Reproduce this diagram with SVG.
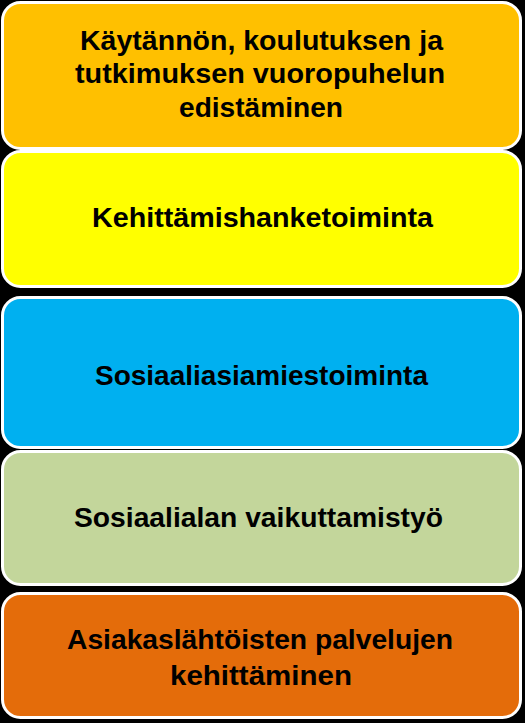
<svg xmlns="http://www.w3.org/2000/svg" width="525" height="723" viewBox="0 0 525 723">
<style>
.box{stroke:#ffffff;stroke-width:3}
.t{font-family:"Liberation Sans",Arial,sans-serif;font-weight:bold;font-size:28px;fill:#000000;text-anchor:middle}
</style>
<rect x="0" y="0" width="525" height="723" fill="#000000"/>
<g id="node1">
<rect class="box" x="2.5" y="2.5" width="518" height="146" rx="18" fill="#FFC000"/>
<text class="t" x="261.5" y="50" textLength="363" lengthAdjust="spacingAndGlyphs">Käytännön, koulutuksen ja</text>
<text class="t" x="260" y="83" textLength="370" lengthAdjust="spacingAndGlyphs">tutkimuksen vuoropuhelun</text>
<text class="t" x="261" y="117" textLength="164" lengthAdjust="spacingAndGlyphs">edistäminen</text>
</g>
<g id="node2">
<rect class="box" x="2.5" y="151.5" width="518" height="135" rx="18" fill="#FFFF00"/>
<text class="t" x="262.5" y="227" textLength="341" lengthAdjust="spacingAndGlyphs">Kehittämishanketoiminta</text>
</g>
<g id="node3">
<rect class="box" x="2.5" y="297.5" width="518" height="150" rx="18" fill="#00B0F0"/>
<text class="t" x="261.5" y="385" textLength="333" lengthAdjust="spacingAndGlyphs">Sosiaaliasiamiestoiminta</text>
</g>
<g id="node4">
<rect class="box" x="2.5" y="451.5" width="518" height="133" rx="18" fill="#C3D69B"/>
<text class="t" x="258.5" y="527" textLength="369" lengthAdjust="spacingAndGlyphs">Sosiaalialan vaikuttamistyö</text>
</g>
<g id="node5">
<rect class="box" x="2.5" y="593.5" width="518" height="124" rx="18" fill="#E46C0A"/>
<text class="t" x="260" y="649" textLength="386" lengthAdjust="spacingAndGlyphs">Asiakaslähtöisten palvelujen</text>
<text class="t" x="261" y="685" textLength="182" lengthAdjust="spacingAndGlyphs">kehittäminen</text>
</g>
<g id="connectors"></g>
</svg>
